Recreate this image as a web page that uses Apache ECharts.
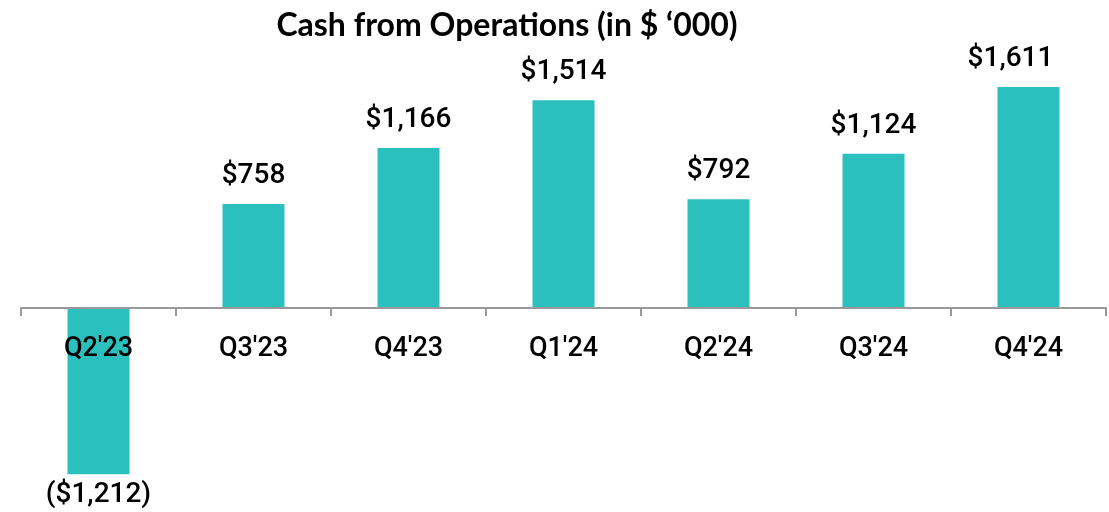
<!DOCTYPE html>
<html><head><meta charset="utf-8">
<script src="https://cdn.jsdelivr.net/npm/echarts@6/dist/echarts.min.js"></script>
<style>html,body{margin:0;padding:0;background:#fff}#c{width:1109px;height:512px}</style>
</head><body><div id="c"></div>
<script>
const categories = ["Q2'23","Q3'23","Q4'23","Q1'24","Q2'24","Q3'24","Q4'24"];
const cashFromOps = [-1212, 758, 1166, 1514, 792, 1124, 1611];
const titleText = "Cash from Operations (in $ \u2018000)";

function fmt(v){
  const s = '$' + Math.abs(v).toLocaleString('en-US');
  return v < 0 ? '(' + s + ')' : s;
}

const chart = echarts.init(document.getElementById('c'), null, {renderer:'canvas'});
chart.setOption({
  animation:false,
  title:{
    text:titleText, left:502, textAlign:'center', top:5,
    textStyle:{fontFamily:'Lato', fontWeight:'bold', fontSize:32, color:'#000'}
  },
  grid:{left:21, right:3, top:33.6, bottom:204, containLabel:false, outerBoundsMode:'none'},
  xAxis:{
    type:'category', data:categories, z:10,
    axisLine:{onZero:false, lineStyle:{color:'#999', width:2}},
    axisTick:{show:true, length:8, lineStyle:{color:'#999', width:2}},
    axisLabel:{color:'#000', fontFamily:'Roboto', fontSize:27, fontWeight:500, margin:28}
  },
  yAxis:{type:'value', min:0, max:2000, show:false, splitLine:{show:false}},
  series:[{
    type:'bar', clip:false,
    data:cashFromOps.map((v,i)=>({value:v, label:{
      position: v<0?'bottom':'top', distance: v<0?7:14,
      offset: i===cashFromOps.length-1 ? [-18,0] : [0,0]}})),
    barWidth:'40%',
    itemStyle:{color:'#2BBFBD'},
    label:{show:true, color:'#000', fontFamily:'Roboto', fontSize:28, fontWeight:500,
      formatter:p=>fmt(p.value)}
  }]
});
</script></body></html>
